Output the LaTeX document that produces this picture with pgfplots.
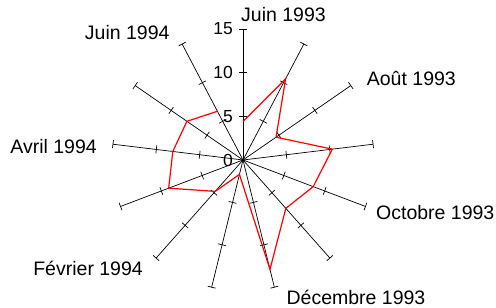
\documentclass[border=0pt]{standalone}
\usepackage{fontspec}
\setmainfont{Liberation Sans}
\usepackage{pgfplots}
\pgfplotsset{compat=1.18}
\usepgfplotslibrary{polar}
\begin{document}
\begin{tikzpicture}
\begin{polaraxis}[
  hide axis,
  scale only axis,
  width=262pt, height=262pt,
  xmin=0, xmax=360, ymin=0, ymax=15,
  clip=false,
]
\coordinate (C) at (axis cs:0,0);
% spokes with tick marks
\pgfplotsinvokeforeach{0,...,12}{
  \draw[black, line width=0.7pt] (axis cs:{90-#1*360/13},0) -- (axis cs:{90-#1*360/13},15);
  \draw[black, line width=0.7pt, shift={(axis cs:{90-#1*360/13},5)}, rotate={90-#1*360/13}] (0,-4pt) -- (0,4pt);
  \draw[black, line width=0.7pt, shift={(axis cs:{90-#1*360/13},10)}, rotate={90-#1*360/13}] (0,-4pt) -- (0,4pt);
  \draw[black, line width=0.7pt, shift={(axis cs:{90-#1*360/13},15)}, rotate={90-#1*360/13}] (0,-4pt) -- (0,4pt);
}
% data (angle, value)
\addplot[red, line width=1.2pt, mark=none] coordinates {
  (90,4.4) (62.31,10.5) (34.62,4.6) (6.92,10.3) (-20.77,8.6) (-48.46,7.4)
  (-76.15,12.9) (-103.85,1.7) (-131.54,4.8) (-159.23,9.1) (-186.92,8.1)
  (-214.62,7.8) (-242.31,6.3)
};
\end{polaraxis}
% value labels on the vertical spoke
\begin{scope}[font=\fontsize{17.5}{19}\selectfont]
\node[anchor=east, inner sep=0pt] at ([xshift=-10pt]C) {0};
\node[anchor=east, inner sep=0pt] at ([xshift=-10pt,yshift=43.7pt]C) {5};
\node[anchor=east, inner sep=0pt] at ([xshift=-10pt,yshift=87.3pt]C) {10};
\node[anchor=east, inner sep=0pt] at ([xshift=-10pt,yshift=131pt]C) {15};
\end{scope}
% month labels
\begin{scope}[font=\fontsize{19.5}{21}\selectfont]
\node[anchor=base west, inner sep=0pt] at ([xshift=-2pt,yshift=138pt]C) {Juin 1993};
\node[anchor=base west, inner sep=0pt] at ([xshift=123.7pt,yshift=74.3pt]C) {Août 1993};
\node[anchor=base west, inner sep=0pt] at ([xshift=133pt,yshift=-60pt]C) {Octobre 1993};
\node[anchor=base west, inner sep=0pt] at ([xshift=43.4pt,yshift=-145pt]C) {Décembre 1993};
\node[anchor=base east, inner sep=0pt] at ([xshift=-100pt,yshift=-116pt]C) {Février 1994};
\node[anchor=base east, inner sep=0pt] at ([xshift=-146pt,yshift=6.7pt]C) {Avril 1994};
\node[anchor=base east, inner sep=0pt] at ([xshift=-73.3pt,yshift=120pt]C) {Juin 1994};
\end{scope}
\pgfresetboundingbox
\path (C) ++(-243pt,-148pt) rectangle ++(496pt,308pt);
\end{tikzpicture}
\end{document}
